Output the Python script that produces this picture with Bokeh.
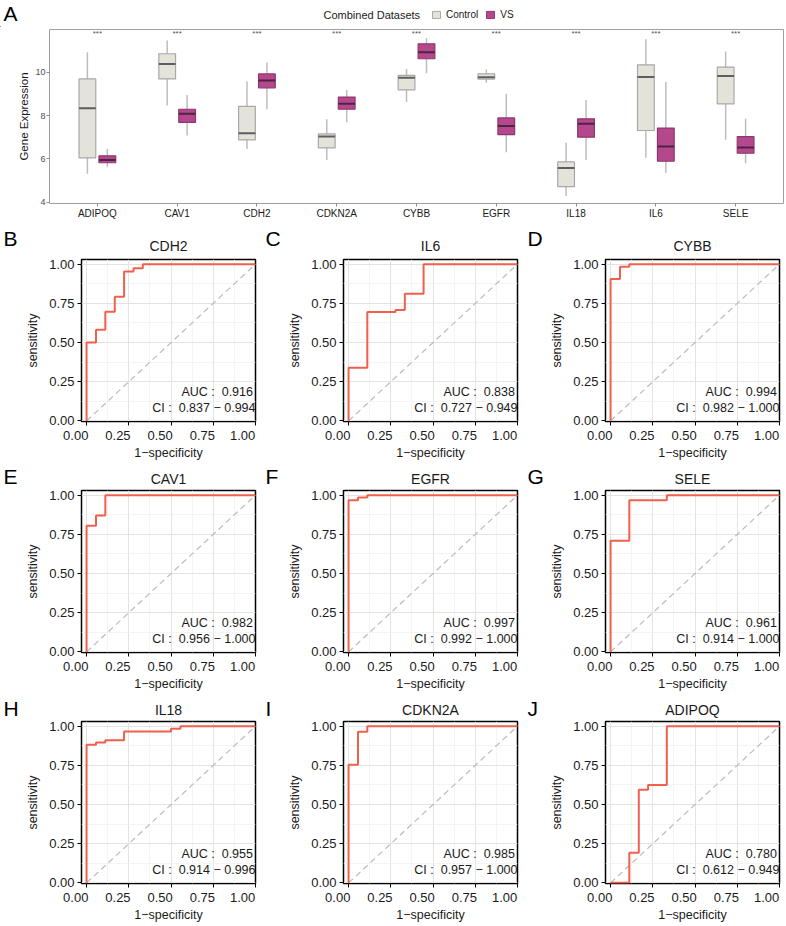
import numpy as np
from bokeh.plotting import figure
from bokeh.models import (Range1d, FixedTicker, Legend, LegendItem, NumeralTickFormatter)
from bokeh.layouts import column, row
from bokeh.embed import file_html
from bokeh.resources import INLINE
from bokeh.core.properties import value

FONT = "Liberation Sans"

# ---------------- Panel A data (box plot) ----------------
genes_a = ["ADIPOQ", "CAV1", "CDH2", "CDKN2A", "CYBB", "EGFR", "IL18", "IL6", "SELE"]
ctrl_low  = [5.31, 8.46, 6.46, 5.95, 8.62, 9.51, 4.29, 6.05, 6.88]
ctrl_q1   = [6.05, 9.69, 6.88, 6.51, 9.18, 9.68, 4.72, 7.31, 8.54]
ctrl_med  = [8.34, 10.38, 7.18, 7.03, 9.74, 9.77, 5.58, 9.78, 9.82]
ctrl_q3   = [9.69, 10.85, 8.42, 7.15, 9.85, 9.92, 5.86, 10.34, 10.23]
ctrl_high = [10.92, 11.46, 9.58, 7.83, 10.15, 10.12, 6.74, 11.52, 10.95]
vs_low    = [5.62, 7.08, 8.29, 7.69, 9.95, 6.31, 5.95, 5.35, 5.80]
vs_q1     = [5.82, 7.68, 9.28, 8.29, 10.62, 7.12, 7.00, 5.89, 6.26]
vs_med    = [5.95, 8.08, 9.62, 8.54, 10.92, 7.52, 7.62, 6.57, 6.52]
vs_q3     = [6.14, 8.29, 9.92, 8.85, 11.31, 7.89, 7.85, 7.42, 7.03]
vs_high   = [6.46, 8.95, 10.45, 9.18, 11.58, 9.00, 8.72, 9.55, 7.85]
signif = ["***"] * 9
a_yticks = [4, 6, 8, 10]
group_labels = ["Control", "VS"]
legend_title = "Combined Datasets"

# ---------------- ROC data ----------------
roc_genes = ["CDH2", "IL6", "CYBB", "CAV1", "EGFR", "SELE", "IL18", "CDKN2A", "ADIPOQ"]
roc_letters = ["B", "C", "D", "E", "F", "G", "H", "I", "J"]
roc_auc = ["0.916", "0.838", "0.994", "0.982", "0.997", "0.961", "0.955", "0.985", "0.780"]
roc_ci_lo = ["0.837", "0.727", "0.982", "0.956", "0.992", "0.914", "0.914", "0.957", "0.612"]
roc_ci_hi = ["0.994", "0.949", "1.000", "1.000", "1.000", "1.000", "0.996", "1.000", "0.949"]
# step points: false-positive rate where sensitivity jumps, and the new sensitivity
roc_fpr = {
    "CDH2":   [0.0, 0.056, 0.111, 0.167, 0.222, 0.278, 0.333],
    "IL6":    [0.0, 0.111, 0.278, 0.333, 0.444],
    "CYBB":   [0.0, 0.056, 0.111],
    "CAV1":   [0.0, 0.056, 0.111],
    "EGFR":   [0.0, 0.056, 0.111],
    "SELE":   [0.0, 0.111, 0.333],
    "IL18":   [0.0, 0.056, 0.111, 0.222, 0.500, 0.556],
    "CDKN2A": [0.0, 0.056, 0.111],
    "ADIPOQ": [0.111, 0.167, 0.222, 0.333],
}
roc_tpr = {
    "CDH2":   [0.50, 0.582, 0.697, 0.793, 0.953, 0.974, 1.0],
    "IL6":    [0.339, 0.695, 0.708, 0.812, 1.0],
    "CYBB":   [0.906, 0.983, 1.0],
    "CAV1":   [0.805, 0.871, 1.0],
    "EGFR":   [0.968, 0.985, 1.0],
    "SELE":   [0.710, 0.968, 1.0],
    "IL18":   [0.881, 0.896, 0.911, 0.966, 0.983, 1.0],
    "CDKN2A": [0.754, 0.964, 1.0],
    "ADIPOQ": [0.193, 0.595, 0.625, 1.0],
}
roc_ticks = [0.0, 0.25, 0.5, 0.75, 1.0]
roc_tick_labels = ["0.00", "0.25", "0.50", "0.75", "1.00"]
roc_minor = [0.125, 0.375, 0.625, 0.875]

# ---------------- colours ----------------
CTRL_FILL, CTRL_LINE, CTRL_MED = "#E3E3DA", "#A8A8A8", "#5E5E5E"
VS_FILL, VS_LINE, VS_MED = "#B5478C", "#8C3A6E", "#4F2443"
WHISK = "#BDBDBD"
ROC_RED = "#F0604D"
TXT = "#1A1A1A"
W = 786


def strip(h):
    s = figure(width=W, height=h, x_range=Range1d(0, W), y_range=Range1d(0, h),
               x_axis_type=None, y_axis_type=None, title_location=None,
               output_backend="svg", toolbar_location=None,
               min_border_left=0, min_border_right=0, min_border_top=0, min_border_bottom=0)
    s.outline_line_color = None
    return s


# ================= Header of panel A =================
SA_H = 27
sa = strip(SA_H)
sa.text(x=[3], y=[SA_H - 12.5], text=["A"], text_align="left", text_baseline="middle",
        text_font=value(FONT), text_font_size="21px", text_color="black")
sa.text(x=[323], y=[SA_H - 14], text=[legend_title], text_align="left", text_baseline="middle",
        text_font=value(FONT), text_font_size="11px", text_color=TXT)
# legend-key proxies, kept outside the visible strip
OFF = -1000
kc = sa.vbar(x=[OFF], width=1, bottom=[0], top=[1], fill_color=CTRL_FILL, line_color=CTRL_LINE, line_width=1)
kv = sa.vbar(x=[OFF], width=1, bottom=[0], top=[1], fill_color=VS_FILL, line_color=VS_LINE, line_width=1)
legend = Legend(items=[LegendItem(label=group_labels[0], renderers=[kc]),
                       LegendItem(label=group_labels[1], renderers=[kv])],
                orientation="horizontal", location=(431, 7), padding=0, margin=0,
                spacing=7, glyph_width=10, glyph_height=9, label_standoff=5,
                label_height=12, label_width=10, label_text_font=FONT,
                label_text_font_size="10px", label_text_color=TXT,
                border_line_color=None, background_fill_alpha=0)
sa.add_layout(legend)

# ================= Panel A =================
pa = figure(width=W, height=199, x_range=Range1d(0.4, 9.6), y_range=Range1d(3.94, 11.97),
            output_backend="svg", toolbar_location=None, title_location=None,
            min_border_left=49, min_border_right=3, min_border_top=2, min_border_bottom=23)
xs = np.arange(1, len(genes_a) + 1)
dodge, bw = 0.125, 0.21
xc, xv = xs - dodge, xs + dodge

pa.segment(x0=xc, y0=ctrl_low, x1=xc, y1=ctrl_high, line_color=WHISK, line_width=1.5)
pa.segment(x0=xv, y0=vs_low, x1=xv, y1=vs_high, line_color=WHISK, line_width=1.5)
pa.vbar(x=xc, width=bw, bottom=ctrl_q1, top=ctrl_q3, fill_color=CTRL_FILL,
        line_color=CTRL_LINE, line_width=1.2)
pa.vbar(x=xv, width=bw, bottom=vs_q1, top=vs_q3, fill_color=VS_FILL,
        line_color=VS_LINE, line_width=1.2)
pa.segment(x0=xc - bw / 2, y0=ctrl_med, x1=xc + bw / 2, y1=ctrl_med, line_color=CTRL_MED, line_width=2)
pa.segment(x0=xv - bw / 2, y0=vs_med, x1=xv + bw / 2, y1=vs_med, line_color=VS_MED, line_width=2)
pa.text(x=xs, y=11.78, text=signif, text_align="center", text_baseline="middle",
        text_font=value(FONT), text_font_size="8px", text_color="#555555")

pa.xaxis.ticker = FixedTicker(ticks=[int(v) for v in xs])
pa.xaxis.major_label_overrides = {int(v): g for v, g in zip(xs, genes_a)}
pa.yaxis.ticker = FixedTicker(ticks=a_yticks)
pa.yaxis.axis_label = "Gene Expression"
for ax in (pa.xaxis[0], pa.yaxis[0]):
    ax.axis_line_color = None
    ax.major_tick_line_color = "#8C8C8C"
    ax.major_tick_out = 3
    ax.major_tick_in = 0
    ax.minor_tick_line_color = None
    ax.major_label_text_font = FONT
    ax.major_label_standoff = 1
pa.xaxis.major_label_text_font_size = "10px"
pa.xaxis.major_label_text_color = TXT
pa.yaxis.major_label_text_font_size = "9px"
pa.yaxis.major_label_text_color = "#4D4D4D"
pa.yaxis.axis_label_text_font = FONT
pa.yaxis.axis_label_text_font_size = "11.5px"
pa.yaxis.axis_label_text_font_style = "normal"
pa.yaxis.axis_label_text_color = TXT
pa.yaxis.axis_label_standoff = 2
pa.xgrid.grid_line_color = None
pa.ygrid.grid_line_color = None
pa.outline_line_color = "#A0A0A0"
pa.outline_line_width = 1

# ================= ROC panels =================
FRAME_H = 162
strip_h = [32, 25, 25]
fig_h = [206, 206, 206]
title_rise = [12.3, 10.7, 10.7]
letter_rise = [19.7, 13.0, 12.5]
COL_W = 262
# the reference's x tick labels sit right-aligned to their ticks: trailing figure spaces
# shift the centred label text to the left (the last label is pushed in by the plot edge)
pad = ["\u2007" * 3] * 4 + ["\u2007"]
GAP = " \u00a0"  # the wide gap after the colon in the AUC / CI labels


def roc_strip(r):
    s = strip(strip_h[r])
    cols = np.arange(3)
    s.text(x=81 + 87 + COL_W * cols, y=title_rise[r], text=roc_genes[3 * r:3 * r + 3],
           text_align="center", text_baseline="middle", text_font=value(FONT),
           text_font_size="14px", text_color=TXT)
    s.text(x=3 + COL_W * cols, y=letter_rise[r], text=roc_letters[3 * r:3 * r + 3],
           text_align="left", text_baseline="middle", text_font=value(FONT),
           text_font_size="21px", text_color="black")
    return s


def roc_fig(k):
    r = k // 3
    gene = roc_genes[k]
    h = fig_h[r]
    p = figure(width=COL_W, height=h, x_range=Range1d(-0.03, 1.0), y_range=Range1d(-0.004, 1.03),
               output_backend="svg", toolbar_location=None, title_location=None,
               min_border_left=81, min_border_right=7, min_border_top=1,
               min_border_bottom=h - 1 - FRAME_H)

    # diagonal reference line and ROC curve
    p.line(x=roc_ticks, y=roc_ticks, line_color="#BBBBBB", line_dash="6 4", line_width=1.2)
    cx, cy = [0.0], [0.0]
    for f, t in zip(roc_fpr[gene], roc_tpr[gene]):
        cx += [f, f]
        cy += [cy[-1], t]
    cx.append(1.0)
    cy.append(cy[-1])
    p.line(x=cx, y=cy, line_color=ROC_RED, line_width=2)

    p.text(x=[0.985, 1.0], y=[0.185, 0.08],
           text=[f"AUC :{GAP}{roc_auc[k]}", f"CI :{GAP}{roc_ci_lo[k]} \u2212 {roc_ci_hi[k]}"],
           text_align="right", text_baseline="middle", text_font=value(FONT),
           text_font_size="12.5px", text_color=TXT)

    for ax in (p.xaxis[0], p.yaxis[0]):
        ax.ticker = FixedTicker(ticks=roc_ticks, minor_ticks=roc_minor)
        ax.axis_line_color = None
        ax.major_tick_line_color = "black"
        ax.major_tick_line_width = 1
        ax.major_tick_out = 4
        ax.major_tick_in = 0
        ax.minor_tick_line_color = None
        ax.axis_label_text_font = FONT
        ax.axis_label_text_font_size = "12.5px"
        ax.axis_label_text_font_style = "normal"
        ax.axis_label_text_color = TXT
        ax.major_label_text_font = FONT
        ax.major_label_text_font_size = "13px"
        ax.major_label_text_color = TXT
    p.yaxis.formatter = NumeralTickFormatter(format="0.00")
    p.yaxis.major_label_standoff = 3
    p.yaxis.axis_label = "sensitivity"
    p.yaxis.axis_label_standoff = 6
    p.xaxis.major_label_overrides = {t: lab + sp for t, lab, sp in zip(roc_ticks, roc_tick_labels, pad)}
    p.xaxis.major_label_standoff = 2
    p.xaxis.axis_label = "1\u2212specificity"
    p.xaxis.axis_label_standoff = 0

    for g in (p.xgrid[0], p.ygrid[0]):
        g.grid_line_color = "#E3E3E3"
        g.grid_line_width = 1
        g.minor_grid_line_color = "#F1F1F1"
        g.minor_grid_line_width = 0.8
    p.outline_line_color = "black"
    p.outline_line_width = 1.5
    return p


figs = [roc_fig(k) for k in range(9)]
layout = column(sa, row(pa),
                roc_strip(0), row(*figs[0:3]),
                roc_strip(1), row(*figs[3:6]),
                roc_strip(2), row(*figs[6:9]))

open("out.html", "w").write(file_html(layout, INLINE))
